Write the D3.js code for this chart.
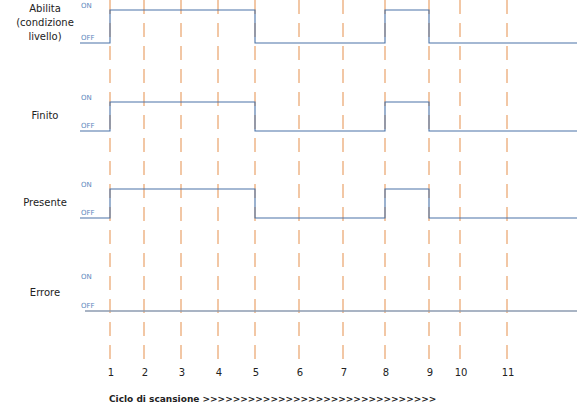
<!DOCTYPE html>
<html><head><meta charset="utf-8">
<script src="https://cdn.jsdelivr.net/npm/d3@7"></script>
<style>body{margin:0;background:#fff}text{font-family:"DejaVu Sans",Verdana,sans-serif}</style>
</head><body><svg id="c" width="577" height="410"></svg>
<script>
// cicli di scansione e segnali
var cicli = [1, 2, 3, 4, 5, 6, 7, 8, 9, 10, 11];
var segnali = ["Abilita", "Finito", "Presente", "Errore"];
// transizioni: [ciclo, stato] (0 = OFF, 1 = ON)
var abilita = [[1, 1], [5, 0], [8, 1], [9, 0]];
var finito = [[1, 1], [5, 0], [8, 1], [9, 0]];
var presente = [[1, 1], [5, 0], [8, 1], [9, 0]];
var errore = [];

var svg = d3.select("#c");
// posizione delle linee tratteggiate (non uniformi come nel disegno)
var x = d3.scaleLinear().domain(cicli).range([110, 144, 181, 218, 255, 299, 343, 385, 429, 460, 507]);
var righe = [
  {nome: ["Abilita", "(condizione", "livello)"], on: 10, off: 43, dati: abilita, x0: 80, ly: 12},
  {nome: ["Finito"], on: 102, off: 131, dati: finito, x0: 80, ly: 119},
  {nome: ["Presente"], on: 189, off: 218, dati: presente, x0: 80, ly: 206},
  {nome: ["Errore"], on: 281, off: 311, dati: errore, x0: 85, ly: 296}
];

// linee tratteggiate verticali
svg.selectAll("line.ciclo").data(cicli).join("line")
  .attr("x1", d => x(d)).attr("x2", d => x(d))
  .attr("y1", 0).attr("y2", 362)
  .attr("stroke", "#f2c7a5").attr("stroke-width", 2)
  .attr("stroke-dasharray", "14,9");

svg.selectAll("text.ciclo").data(cicli).join("text")
  .attr("x", d => x(d) + 1).attr("y", 376)
  .attr("text-anchor", "middle").attr("font-size", 10).attr("fill", "#222")
  .text(d => d);

righe.forEach(function (r) {
  var y = d3.scaleLinear().domain([0, 1]).range([r.off, r.on]);
  var pts = [[r.x0, 0]];
  var stato = 0;
  r.dati.forEach(function (t) {
    pts.push([x(t[0]), stato]);
    pts.push([x(t[0]), t[1]]);
    stato = t[1];
  });
  pts.push([577, stato]);
  svg.append("path")
    .attr("d", d3.line().x(d => d[0]).y(d => y(d[1]))(pts))
    .attr("fill", "none")
    .attr("stroke", r.dati.length ? "#4a73a8" : "#8c9bb0")
    .attr("stroke-width", r.dati.length ? 1.1 : 1.6);
  svg.append("text").attr("x", 81).attr("y", r.on - 2)
    .attr("font-size", 7).attr("fill", "#5b86bd").text("ON");
  svg.append("text").attr("x", 81).attr("y", r.off - 3)
    .attr("font-size", 7).attr("fill", "#5b86bd").text("OFF");
  var t = svg.append("text").attr("x", 45).attr("y", r.ly)
    .attr("text-anchor", "middle").attr("font-size", 10).attr("fill", "#222");
  r.nome.forEach(function (n, i) {
    t.append("tspan").attr("x", 45).attr("dy", i ? 14 : 0).text(n);
  });
});

svg.append("text").attr("x", 109).attr("y", 402)
  .attr("font-size", 9).attr("font-weight", "bold").attr("fill", "#222")
  .text("Ciclo di scansione >>>>>>>>>>>>>>>>>>>>>>>>>>>>>>>");
</script></body></html>
